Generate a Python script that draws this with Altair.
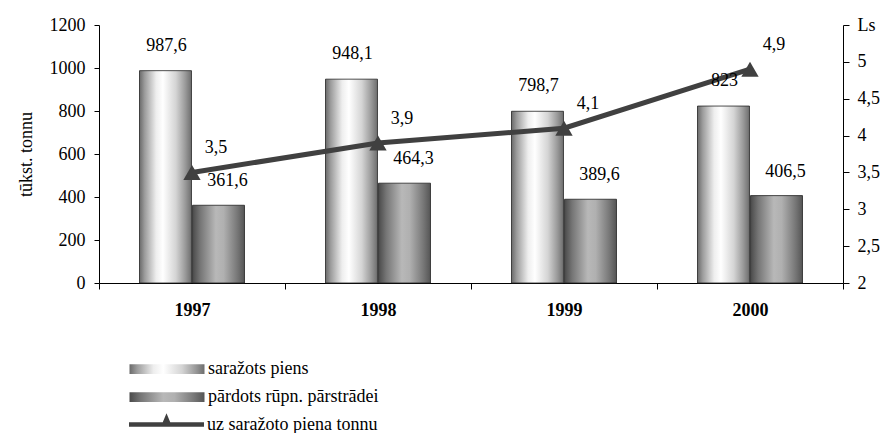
import altair as alt
import pandas as pd

# ---- data ----
years = ["1997", "1998", "1999", "2000"]
produced = [987.6, 948.1, 798.7, 823.0]      # saražots piens, tūkst. t
sold = [361.6, 464.3, 389.6, 406.5]          # pārdots rūpn. pārstrādei, tūkst. t
price = [3.5, 3.9, 4.1, 4.9]                 # Ls uz saražoto piena tonnu
series_names = ["saražots piens", "pārdots rūpn. pārstrādei", "uz saražoto piena tonnu"]
left_ticks = [0, 200, 400, 600, 800, 1000, 1200]
right_ticks = [2, 2.5, 3, 3.5, 4, 4.5, 5, 5.5]
left_title = "tūkst. tonnu"
right_top_label = "Ls"


def fmt(v):
    return f"{v:g}".replace(".", ",")


A, B, C = series_names
bars_df = pd.DataFrame({
    "year": years * 2,
    "series": [A] * len(years) + [B] * len(years),
    "value": produced + sold,
})
bars_df["label"] = [fmt(v) for v in bars_df["value"]]
line_df = pd.DataFrame({"year": years, "series": [C] * len(years), "price": price})
line_df["label"] = [fmt(v) for v in price]

FONT = "'Liberation Serif', 'Times New Roman', 'DejaVu Serif', serif"
FS = 18

grad_light = alt.LinearGradient(
    gradient="linear", x1=0, x2=1, y1=0, y2=0,
    stops=[
        alt.GradientStop(color="#6a6a6a", offset=0),
        alt.GradientStop(color="#9c9c9c", offset=0.1),
        alt.GradientStop(color="#eeeeee", offset=0.32),
        alt.GradientStop(color="#ffffff", offset=0.45),
        alt.GradientStop(color="#d4d4d4", offset=0.7),
        alt.GradientStop(color="#9a9a9a", offset=0.88),
        alt.GradientStop(color="#6e6e6e", offset=1),
    ],
)
grad_dark = alt.LinearGradient(
    gradient="linear", x1=0, x2=1, y1=0, y2=0,
    stops=[
        alt.GradientStop(color="#4a4a4a", offset=0),
        alt.GradientStop(color="#767676", offset=0.15),
        alt.GradientStop(color="#b8b8b8", offset=0.45),
        alt.GradientStop(color="#b0b0b0", offset=0.6),
        alt.GradientStop(color="#7a7a7a", offset=0.85),
        alt.GradientStop(color="#555555", offset=1),
    ],
)
LINE_COLOR = "#404040"

x_enc = alt.X(
    "year:N", sort=years, title=None,
    scale=alt.Scale(paddingInner=0, paddingOuter=0),
    axis=alt.Axis(tickBand="extent", labelFontWeight="bold", labelAngle=0,
                  tickSize=6, labelPadding=12),
)
xoff_enc = alt.XOffset(
    "series:N", sort=[A, B],
    scale=alt.Scale(domain=[A, B], paddingInner=0.02, paddingOuter=0.764),
)
y_left = alt.Y(
    "value:Q", title=left_title,
    scale=alt.Scale(domain=[0, 1200], nice=False),
    axis=alt.Axis(values=left_ticks, format="d", tickSize=5, labelPadding=9, titlePadding=14),
)
y_left_noaxis = alt.Y(
    "value:Q", scale=alt.Scale(domain=[0, 1200], nice=False), axis=None,
)

rect_path = "M-1,-0.13H1V0.13H-1Z"
line_path = "M-1,-0.06H1V0.06H-1Z M0,-0.3L0.15,0.06L-0.15,0.06Z"


def legend_for(y, path, stroke):
    kw = dict(
        title=None, orient="none", legendX=30, legendY=y, padding=0,
        symbolType=path, symbolSize=5625, labelOffset=3,
        labelFont=FONT, labelFontSize=FS, labelColor="black", labelLimit=400,
        symbolOpacity=1,
    )
    if stroke:
        kw.update(symbolStrokeColor="#222222", symbolStrokeWidth=1)
    else:
        kw.update(symbolStrokeWidth=0, symbolFillColor=LINE_COLOR)
    return alt.Legend(**kw)


bar1 = alt.Chart(bars_df).transform_filter(alt.datum.series == A).mark_bar(
    color=grad_light, stroke="#222222", strokeWidth=0.8
).encode(
    x=x_enc, xOffset=xoff_enc, y=y_left,
    opacity=alt.Opacity("series:O", scale=alt.Scale(domain=[A], range=[1]),
                        legend=legend_for(306, rect_path, True)),
)
bar2 = alt.Chart(bars_df).transform_filter(alt.datum.series == B).mark_bar(
    color=grad_dark, stroke="#222222", strokeWidth=0.8
).encode(
    x=x_enc, xOffset=xoff_enc, y=y_left,
    opacity=alt.Opacity("series:O", scale=alt.Scale(domain=[B], range=[1]),
                        legend=legend_for(334, rect_path, True)),
)
labels_a = alt.Chart(bars_df).transform_filter(alt.datum.series == A).mark_text(
    font=FONT, fontSize=FS, color="black", baseline="middle", dy=-25, dx=1
).encode(x=x_enc, xOffset=xoff_enc, y=y_left_noaxis, text="label:N")
labels_b = alt.Chart(bars_df).transform_filter(alt.datum.series == B).mark_text(
    font=FONT, fontSize=FS, color="black", baseline="middle", dy=-24, dx=9
).encode(x=x_enc, xOffset=xoff_enc, y=y_left_noaxis, text="label:N")

y_right = alt.Y(
    "price:Q", title=None,
    scale=alt.Scale(domain=[2, 5.5], nice=False, zero=False),
    axis=alt.Axis(
        orient="right", values=right_ticks, tickSize=6, labelPadding=8,
        labelExpr=f"datum.value == 5.5 ? '{right_top_label}' : replace(format(datum.value, ''), '.', ',')",
    ),
)
line = alt.Chart(line_df).mark_line(color=LINE_COLOR, strokeWidth=5).encode(
    x=x_enc, y=y_right
)
points = alt.Chart(line_df).mark_point(
    shape="triangle-up", filled=True, size=300, color=LINE_COLOR
).encode(
    x=x_enc, y=y_right,
    opacity=alt.Opacity("series:O", scale=alt.Scale(domain=[C], range=[1]),
                        legend=legend_for(362, line_path, False)),
)
line_labels = alt.Chart(line_df).mark_text(
    font=FONT, fontSize=FS, color="black", baseline="middle", dx=24, dy=-24
).encode(x=x_enc, y=y_right, text="label:N")

bars_layer = alt.layer(bar1, bar2).resolve_scale(
    opacity="independent").resolve_legend(opacity="independent")
line_layer = alt.layer(line, points, line_labels)
bar_label_layer = alt.layer(labels_a, labels_b)

chart = alt.layer(bars_layer, line_layer, bar_label_layer).resolve_scale(
    y="independent", opacity="independent"
).resolve_legend(opacity="independent").properties(
    width=744, height=258,
    autosize=alt.AutoSizeParams(type="none"),
    padding={"left": 91, "top": 17, "right": 40, "bottom": 150},
).configure_view(stroke=None).configure_axis(
    labelFont=FONT, labelFontSize=FS, labelColor="black",
    titleFont=FONT, titleFontSize=FS, titleColor="black", titleFontWeight="normal",
    grid=False, domainColor="black", tickColor="black", domainWidth=1, tickWidth=1,
).configure_text(font=FONT)

chart.save("out.html", embed_options={"renderer": "svg", "actions": False})
